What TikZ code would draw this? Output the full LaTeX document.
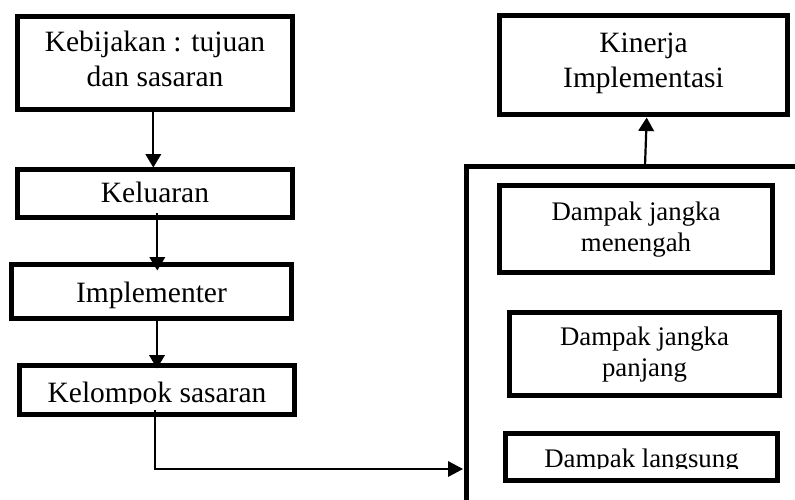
\documentclass[tikz,border=0pt]{standalone}
\usepackage{fontspec}
\setmainfont{Liberation Serif}
\usetikzlibrary{arrows.meta}
\newcommand{\boxtxt}[2]{\raisebox{#1}{\begin{tabular}[t]{@{}c@{}}#2\end{tabular}}}
\begin{document}
\begin{tikzpicture}[x=1pt,y=-1pt,
  box/.style={draw, line width=5pt, inner sep=0pt, outer sep=0pt, text height=0pt, text depth=0pt, font=\fontsize{29.5}{35}\selectfont},
  small/.style={font=\fontsize{26.8}{31}\selectfont},
  txt/.style={draw=none, fill=none, inner sep=0pt, outer sep=0pt, minimum width=0pt, minimum height=0pt, text height=0pt, text depth=0pt},
  arr/.style={line width=2.2pt, -{Triangle[length=13.5pt,width=15.5pt]}},
  conn/.style={line width=1.7pt, -{Triangle[length=15pt,width=15.5pt]}},
  bracket/.style={line width=5pt}]
\useasboundingbox (0,0) rectangle (795,499);
\fill[white] (0,0) rectangle (795,499);
% left column
\node[box, minimum width=275pt, minimum height=93pt] (k1) at (155,63) {\boxtxt{11.5pt}{Kebijakan : tujuan\\dan sasaran}};
\node[box, minimum width=275pt, minimum height=48pt] (kel) at (155,193.5) {\boxtxt{-8.5pt}{Keluaran}};
\node[box, minimum width=280pt, minimum height=54pt] (imp) at (151.5,291.5) {\boxtxt{-10.5pt}{Implementer}};
\node[box, minimum width=275pt, minimum height=49pt,
  path picture={\clip (path picture bounding box.north west) rectangle ([yshift=-13.5pt]path picture bounding box.east);
    \node[txt, font=\fontsize{29.5}{35}\selectfont] (kpt) at (path picture bounding box.center) {\boxtxt{-12pt}{Kelompok sasaran}};}] (kp) at (157,390) {};
% right column
\node[box, minimum width=288pt, minimum height=99pt] (kin) at (643.5,65) {\boxtxt{12.5pt}{Kinerja\\Implementasi}};
\node[box, small, minimum width=273pt, minimum height=87pt] (dm) at (636,229) {\boxtxt{9pt}{Dampak jangka\\menengah}};
\node[box, small, minimum width=270pt, minimum height=83pt] (dp) at (644.5,354) {\boxtxt{9pt}{Dampak jangka\\panjang}};
\node[box, small, minimum width=272pt, minimum height=47pt,
  path picture={\clip (path picture bounding box.north west) rectangle ([yshift=-11.5pt]path picture bounding box.east);
    \node[txt, font=\fontsize{26.8}{31}\selectfont] (dlt) at (path picture bounding box.center) {\boxtxt{-10pt}{Dampak langsung}};}] (dl) at (641.5,457) {};
% bracket
\draw[bracket] (466,505) -- (466,166) -- (800,166);
\coordinate (brk) at (463,469);
\coordinate (bt) at (645,166);
% connectors
\draw[arr] ([xshift=-1.7pt]k1.south) -- ([xshift=-1.7pt,yshift=2pt]kel.north);
\draw[arr] ([xshift=2.3pt,yshift=-19.5pt]kel.center) -- ([xshift=5.8pt,yshift=-6pt]imp.north);
\draw[arr] ([xshift=5.5pt]imp.south) -- ([yshift=-3pt]kp.north);
\draw[conn] ([xshift=-2pt,yshift=-20pt]kp.center) |- (brk);
\draw[arr] (bt) -- ([xshift=3.2pt,yshift=-3pt]kin.south);
\end{tikzpicture}
\end{document}
